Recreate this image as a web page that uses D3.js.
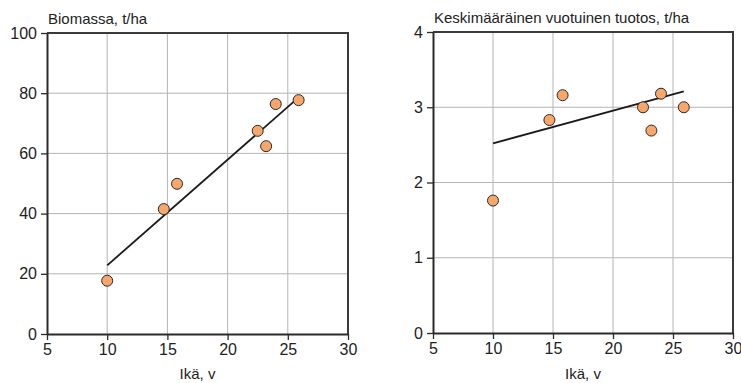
<!DOCTYPE html>
<html>
<head>
<meta charset="utf-8">
<script src="https://cdn.jsdelivr.net/npm/d3@7"></script>
<style>
  body { margin: 0; background: #fff; }
  svg { font-family: "Liberation Sans", Arial, sans-serif; }
  .grid line { stroke: #b4b4b4; stroke-width: 1; }
  .tick text { fill: #222; }
</style>
</head>
<body>
<div id="chart"></div>
<script>
// ages of the stands (years)
var age = [10, 14.7, 15.8, 22.5, 23.2, 24.0, 25.9];
// biomass, t/ha
var biomass = [17.7, 41.5, 49.9, 67.5, 62.4, 76.4, 77.7];
// mean annual yield, t/ha
var annualYield = [1.76, 2.83, 3.16, 3.0, 2.69, 3.18, 3.0];

// trend line end points
var fitAge = [10, 25.9];
var biomassFit = [22.8, 78.6];
var yieldFit = [2.52, 3.21];

var xTicks = [5, 10, 15, 20, 25, 30];
var biomassTicks = [0, 20, 40, 60, 80, 100];
var yieldTicks = [0, 1, 2, 3, 4];

var svg = d3.select("#chart")
  .append("svg")
  .attr("width", 741)
  .attr("height", 383);

function drawPanel(opts) {
  var x = d3.scaleLinear().domain([5, 30]).range([opts.left, opts.right]);
  var y = d3.scaleLinear().domain(opts.yDomain).range([opts.bottom, opts.top]);

  var g = svg.append("g");

  // grid
  var grid = g.append("g").attr("class", "grid");
  grid.selectAll(".gx")
    .data(xTicks.slice(1, -1))
    .enter()
    .append("line")
    .attr("x1", d => x(d)).attr("x2", d => x(d))
    .attr("y1", opts.top).attr("y2", opts.bottom);
  grid.selectAll(".gy")
    .data(opts.yTicks.slice(1, -1))
    .enter()
    .append("line")
    .attr("x1", opts.left).attr("x2", opts.right)
    .attr("y1", d => y(d)).attr("y2", d => y(d));

  // frame (top and right)
  g.append("path")
    .attr("d", `M${opts.left},${opts.top}H${opts.right}V${opts.bottom}`)
    .attr("fill", "none")
    .attr("stroke", "#3a3a3a")
    .attr("stroke-width", 2);

  // axes
  var xAxis = g.append("g")
    .attr("transform", `translate(0, ${opts.bottom})`)
    .call(d3.axisBottom(x).tickValues(xTicks).tickFormat(d3.format("d"))
      .tickSize(6).tickPadding(4).tickSizeOuter(0));
  var yAxis = g.append("g")
    .attr("transform", `translate(${opts.left}, 0)`)
    .call(d3.axisLeft(y).tickValues(opts.yTicks).tickFormat(d3.format("d"))
      .tickSize(6).tickPadding(4).tickSizeOuter(0));

  [xAxis, yAxis].forEach(function(a) {
    a.attr("font-family", null).attr("font-size", null);
    a.select(".domain").attr("stroke", "#2a2a2a").attr("stroke-width", 2);
    a.selectAll(".tick line").attr("stroke", "#2a2a2a").attr("stroke-width", 1.3);
    a.selectAll(".tick text").style("font-size", "16px");
  });

  // titles
  g.append("text")
    .attr("x", opts.left + 1)
    .attr("y", opts.top - 9)
    .style("font-size", "15px")
    .attr("fill", "#222")
    .text(opts.title);

  g.append("text")
    .attr("x", (opts.left + opts.right) / 2)
    .attr("y", 379)
    .attr("text-anchor", "middle")
    .style("font-size", "15px")
    .attr("fill", "#222")
    .text("Ikä, v");

  // trend line
  var line = d3.line()
    .x(d => x(d[0]))
    .y(d => y(d[1]));
  g.append("path")
    .datum(fitAge.map((a, i) => [a, opts.fit[i]]))
    .attr("d", line)
    .attr("fill", "none")
    .attr("stroke", "#1a1a1a")
    .attr("stroke-width", 1.8);

  // points
  g.selectAll("circle")
    .data(age.map((a, i) => [a, opts.values[i]]))
    .enter()
    .append("circle")
    .attr("cx", d => x(d[0]))
    .attr("cy", d => y(d[1]))
    .attr("r", 5.5)
    .attr("fill", "#f9a66b")
    .attr("stroke", "#2a2a2a")
    .attr("stroke-width", 1);
}

drawPanel({
  left: 47, right: 348, top: 33, bottom: 334,
  yDomain: [0, 100], yTicks: biomassTicks,
  values: biomass, fit: biomassFit,
  title: "Biomassa, t/ha"
});

drawPanel({
  left: 433, right: 733, top: 32, bottom: 333,
  yDomain: [0, 4], yTicks: yieldTicks,
  values: annualYield, fit: yieldFit,
  title: "Keskimääräinen vuotuinen tuotos, t/ha"
});
</script>
</body>
</html>
